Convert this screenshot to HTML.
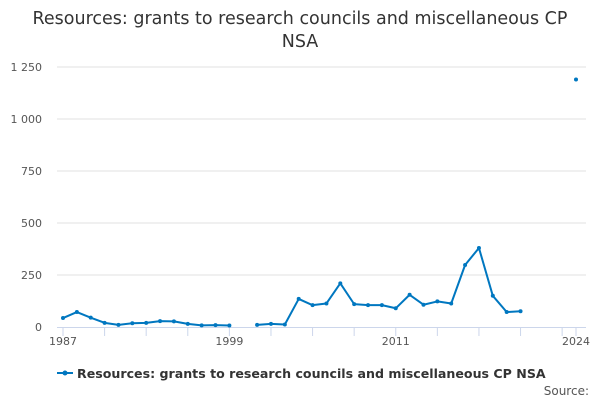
<!DOCTYPE html>
<html><head><meta charset="utf-8"><style>
body{margin:0;background:#fff;font-family:"DejaVu Sans",sans-serif;}
</style></head><body>
<svg width="600" height="400" id="c" font-family="DejaVu Sans, sans-serif">
<text x="300" y="24" text-anchor="middle" font-size="17.5" fill="#333">Resources: grants to research councils and miscellaneous CP</text>
<text x="300" y="47" text-anchor="middle" font-size="17.5" fill="#333">NSA</text>
<g id="grid"></g><g id="xaxis"></g><g id="series"></g>
<g>
<line x1="57" y1="373" x2="73" y2="373" stroke="#0077c0" stroke-width="2"/>
<circle cx="65" cy="373" r="2.5" fill="#0077c0"/>
<text x="77" y="378" font-size="12.6" font-weight="bold" fill="#333">Resources: grants to research councils and miscellaneous CP NSA</text>
</g>
<text x="589" y="395" text-anchor="end" font-size="12" fill="#555">Source:</text>
</svg>
<script>
const years=[1987,1988,1989,1990,1991,1992,1993,1994,1995,1996,1997,1998,1999,2000,2001,2002,2003,2004,2005,2006,2007,2008,2009,2010,2011,2012,2013,2014,2015,2016,2017,2018,2019,2020,2021,2022,2023,2024];
const values=[43,72,45,20,10,18,20,28,27,15,8,9,7,null,10,15,12,135,105,113,210,110,105,105,90,155,107,123,113,298,380,150,72,76,null,null,null,1190];
const yTicks=[0,250,500,750,1000,1250];
const yTickLabels=["0","250","500","750","1 000","1 250"];
const xLabels=[1987,1999,2011,2024];
const ns="http://www.w3.org/2000/svg";
const X=y=>63+(y-1987)*(513/37);
const Y=v=>327-v*0.208;
function mk(t,a,p){const e=document.createElementNS(ns,t);for(const k in a)e.setAttribute(k,a[k]);p.appendChild(e);return e;}
const grid=document.getElementById('grid');
yTicks.forEach((t,i)=>{
 if(t>0){const l=mk('line',{x1:57,x2:586,y1:Y(t),y2:Y(t),stroke:'#e0e0e0'},grid);
 
 }
 const tx=mk('text',{x:42,y:Y(t)+4,'text-anchor':'end','font-size':11,fill:'#555'},grid);tx.textContent=yTickLabels[i];
 
 
});
const xa=document.getElementById('xaxis');
const ax=mk('line',{x1:57,x2:586,y1:327.5,y2:327.5,stroke:'#ccd6eb'},xa);


for(let y=1987;y<=2024;y+=3){const tk=mk('line',{x1:X(y),x2:X(y),y1:327,y2:336,stroke:'#ccd6eb'},xa);

}
mk('line',{x1:X(2024),x2:X(2024),y1:327,y2:336,stroke:'#ccd6eb'},xa);
xLabels.forEach(y=>{const t=mk('text',{x:X(y),y:345,'text-anchor':'middle','font-size':11,fill:'#555'},xa);t.textContent=y;

});
const s=document.getElementById('series');
let d='',pen=false;
years.forEach((y,i)=>{const v=values[i];if(v==null){pen=false;return;}d+=(pen?'L':'M')+X(y)+' '+Y(v);pen=true;});
const p=mk('path',{d:d,fill:'none',stroke:'#0077c0','stroke-width':2,'stroke-linejoin':'round'},s);


years.forEach((y,i)=>{const v=values[i];if(v==null)return;const c=mk('circle',{cx:X(y),cy:Y(v),r:2,fill:'#0077c0'},s);

});
</script>
</body></html>
